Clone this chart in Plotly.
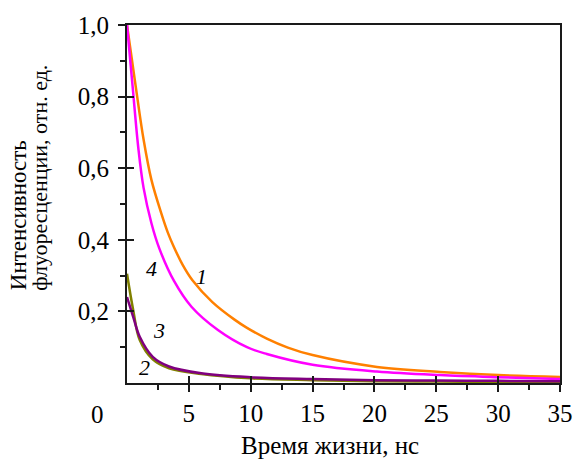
import plotly.graph_objects as go

# Fluorescence decay curves (normalised intensity vs time, ns)
x1 = [0, 0.71, 1.34, 1.97, 2.76, 3.3, 3.79, 4.5, 5.29, 6.9, 8.69, 9.7, 11.3, 13, 15, 20.2, 25.3, 30, 35]
y1 = [1.0, 0.827, 0.680, 0.568, 0.475, 0.42, 0.38, 0.33, 0.287, 0.226, 0.177, 0.154, 0.124, 0.099, 0.078, 0.045, 0.031, 0.022, 0.017]

x4 = [0, 0.45, 0.92, 1.34, 1.97, 2.61, 3.8, 5.21, 7.35, 9.7, 11.3, 15, 20.2, 25.3, 30, 35]
y4 = [1.0, 0.83, 0.655, 0.545, 0.447, 0.376, 0.285, 0.213, 0.148, 0.100, 0.081, 0.051, 0.032, 0.022, 0.016, 0.011]

x3 = [0, 0.5, 1.03, 2.08, 3.4, 6.0, 10, 15, 20, 25, 30, 35]
y3 = [0.24, 0.185, 0.129, 0.073, 0.046, 0.027, 0.016, 0.011, 0.008, 0.007, 0.006, 0.005]

x2 = [0, 0.5, 1.03, 2.08, 3.4, 6.0, 10, 15, 20, 25, 30, 35]
y2 = [0.305, 0.204, 0.12, 0.066, 0.041, 0.025, 0.013, 0.008, 0.005, 0.004, 0.003, 0.003]

x_ticks = [5, 10, 15, 20, 25, 30, 35]
y_ticks = [0.2, 0.4, 0.6, 0.8, 1.0]
y_ticklabels = ["0,2", "0,4", "0,6", "0,8", "1,0"]

# curve number labels: (text, x, y)
curve_labels = [("1", 6.0, 0.297), ("4", 1.95, 0.32), ("3", 2.6, 0.147), ("2", 1.4, 0.043)]

FONT = "Liberation Serif, Times New Roman, serif"
AXC = "#1a1a1a"

fig = go.Figure()
series = [
    (x1, y1, "#ff8000"),
    (x4, y4, "#ff00ff"),
    (x2, y2, "#808000"),
    (x3, y3, "#800080"),
]
for xs, ys, c in series:
    fig.add_trace(go.Scatter(x=xs, y=ys, mode="lines",
                             line=dict(color=c, width=2.5, shape="spline", smoothing=1.0),
                             showlegend=False, hoverinfo="skip"))

# invisible trace for the secondary (inside-tick) axes
fig.add_trace(go.Scatter(x=[0], y=[0], xaxis="x2", yaxis="y2", mode="markers",
                         marker=dict(opacity=0), showlegend=False, hoverinfo="skip"))

for t, xv, yv in curve_labels:
    fig.add_annotation(x=xv, y=yv, text=t, showarrow=False,
                       font=dict(family=FONT, size=22, color="black", style="italic"))

# origin label and axis titles
fig.add_annotation(xref="paper", yref="paper", x=-0.068, y=-0.088,
                   xanchor="center", yanchor="middle", text="0",
                   showarrow=False, font=dict(family=FONT, size=25, color="black"))
fig.add_annotation(xref="paper", yref="paper", x=0.468, y=-0.175,
                   xanchor="center", yanchor="middle",
                   text="Время жизни, нс", showarrow=False,
                   font=dict(family=FONT, size=25, color="black"))
fig.add_annotation(xref="paper", yref="paper", x=-0.25, y=0.468,
                   xanchor="center", yanchor="middle",
                   text="Интенсивность", textangle=-90, showarrow=False,
                   font=dict(family=FONT, size=23, color="black"))
fig.add_annotation(xref="paper", yref="paper", x=-0.202, y=0.572,
                   xanchor="center", yanchor="middle",
                   text="флуоресценции, отн. ед.", textangle=-90, showarrow=False,
                   font=dict(family=FONT, size=22, color="black"))

axis_common = dict(showgrid=False, zeroline=False, linecolor=AXC, linewidth=2,
                   tickcolor=AXC, tickwidth=2)

fig.update_layout(
    width=585, height=460,
    margin=dict(l=127, r=15, t=25, b=77),
    plot_bgcolor="white", paper_bgcolor="white",
    xaxis=dict(range=[0, 35], tickvals=x_ticks, ticks="outside", ticklen=7,
               showline=True, mirror=True,
               minor=dict(tickvals=[2.5, 7.5, 12.5, 17.5, 22.5, 27.5, 32.5],
                          ticks="outside", ticklen=5, tickwidth=2, tickcolor=AXC),
               tickfont=dict(family=FONT, size=25, color="black"),
               **axis_common),
    yaxis=dict(range=[0, 1.0], tickvals=y_ticks, ticktext=y_ticklabels,
               ticks="outside", ticklen=7, showline=True, mirror=True,
               ticklabelstandoff=4,
               minor=dict(tickvals=[0.1, 0.3, 0.5, 0.7, 0.9],
                          ticks="outside", ticklen=5, tickwidth=2, tickcolor=AXC),
               tickfont=dict(family=FONT, size=25, color="black"),
               **axis_common),
    xaxis2=dict(range=[0, 35], overlaying="x", anchor="y", side="bottom",
                tickvals=x_ticks, ticks="inside", ticklen=7, showticklabels=False,
                showgrid=False, zeroline=False, showline=False,
                tickcolor=AXC, tickwidth=2),
    yaxis2=dict(range=[0, 1.0], overlaying="y", anchor="x", side="left",
                tickvals=y_ticks, ticks="inside", ticklen=7, showticklabels=False,
                showgrid=False, zeroline=False, showline=False,
                tickcolor=AXC, tickwidth=2),
)

fig.write_html("out.html")
